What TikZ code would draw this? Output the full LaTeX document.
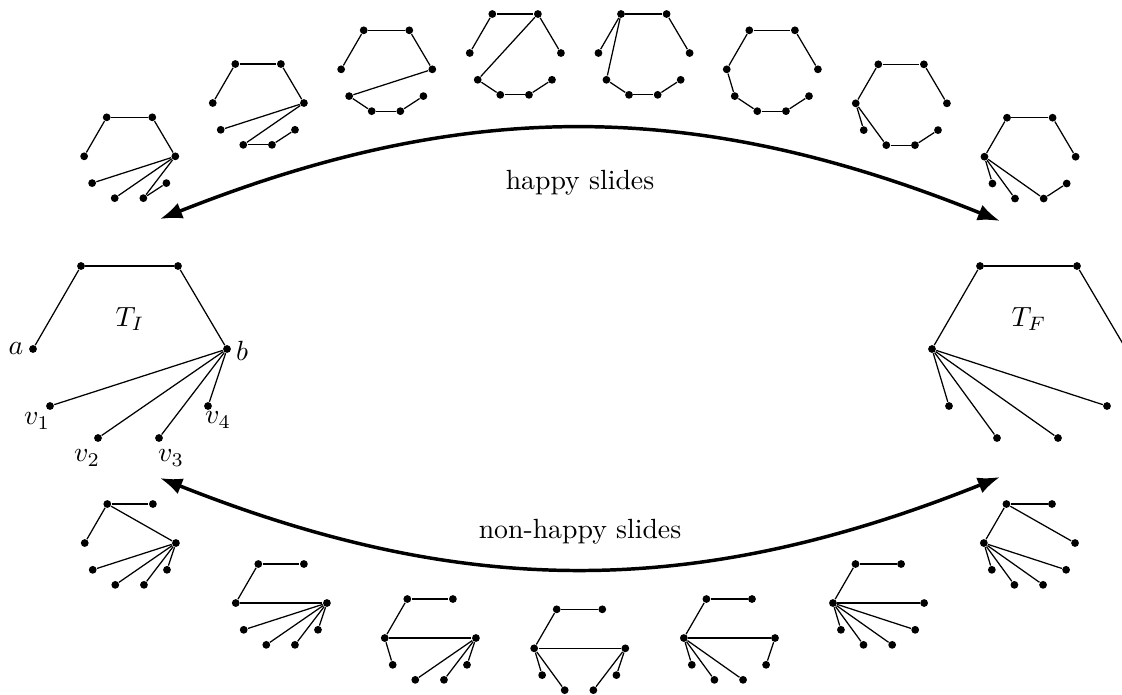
\documentclass[tikz,border=0pt]{standalone}
\usetikzlibrary{arrows.meta}
\tikzset{
  dot/.style={circle,fill,inner sep=0pt,minimum size=2.8pt},
  edge/.style={line width=0.45pt},
  bigarrow/.style={line width=1.25pt,{Latex[length=8pt,width=6pt]}-{Latex[length=8pt,width=6pt]}},
  lbl/.style={inner sep=1pt},
}
\newcommand\treedraw[5]{% prefix, x, y, scale, edges
 \begin{scope}[shift={(#2,#3)},scale=#4]
  \node[dot] (#1TL) at (0,0) {};
  \node[dot] (#1TR) at (97,0) {};
  \node[dot] (#1a) at (-48,83) {};
  \node[dot] (#1b) at (146,83) {};
  \node[dot] (#1v1) at (-31,140) {};
  \node[dot] (#1v2) at (17,172) {};
  \node[dot] (#1v3) at (78,172) {};
  \node[dot] (#1v4) at (127,140) {};
  \foreach \p/\q in {#5} {\draw[edge] (#1\p) -- (#1\q);}
 \end{scope}}
\begin{document}
\begin{tikzpicture}[x=0.36pt,y=-0.36pt]
\useasboundingbox (0,0) rectangle (1122,694);
\clip (0,0) rectangle (1122,694);
% big trees
\treedraw{TI}{81}{266}{1}{TL/TR,TL/a,TR/b,b/v1,b/v2,b/v3,b/v4}
\treedraw{TF}{980}{266}{1}{TL/TR,TL/a,TR/b,a/v1,a/v2,a/v3,a/v4}
% top row
\treedraw{ta}{106.7}{117.3}{0.47}{TL/TR,TL/a,TR/b,b/v1,b/v2,b/v3,v3/v4}
\treedraw{tb}{235.3}{64}{0.47}{TL/TR,TL/a,TR/b,b/v1,b/v2,v2/v3,v3/v4}
\treedraw{tc}{363.7}{30.3}{0.47}{TL/TR,TL/a,TR/b,b/v1,v1/v2,v2/v3,v3/v4}
\treedraw{td}{492.3}{14}{0.47}{TL/TR,TL/a,TR/b,TR/v1,v1/v2,v2/v3,v3/v4}
\treedraw{te}{621}{14}{0.47}{TL/TR,TL/a,TR/b,TL/v1,v1/v2,v2/v3,v3/v4}
\treedraw{tf}{749.3}{30.3}{0.47}{TL/TR,TL/a,TR/b,a/v1,v1/v2,v2/v3,v3/v4}
\treedraw{tg}{878.3}{64.3}{0.47}{TL/TR,TL/a,TR/b,a/v1,a/v2,v2/v3,v3/v4}
\treedraw{th}{1007}{117.7}{0.47}{TL/TR,TL/a,TR/b,a/v1,a/v2,a/v3,v3/v4}
% bottom row
\treedraw{bi}{107.3}{504}{0.47}{TL/TR,TL/a,TL/b,b/v1,b/v2,b/v3,b/v4}
\treedraw{bj}{258.3}{564}{0.47}{TL/TR,TL/a,a/b,b/v1,b/v2,b/v3,b/v4}
\treedraw{bk}{407.3}{599}{0.47}{TL/TR,TL/a,a/b,a/v1,b/v2,b/v3,b/v4}
\treedraw{bl}{556.7}{609.3}{0.47}{TL/TR,TL/a,a/b,a/v1,a/v2,b/v3,b/v4}
\treedraw{bm}{706.4}{599}{0.47}{TL/TR,TL/a,a/b,a/v1,a/v2,a/v3,b/v4}
\treedraw{bn}{855.5}{564}{0.47}{TL/TR,TL/a,a/b,a/v1,a/v2,a/v3,a/v4}
\treedraw{bo}{1006.4}{504}{0.47}{TL/TR,TL/a,TL/b,a/v1,a/v2,a/v3,a/v4}
% labels
\node[lbl] (la) at (16,349) {$a$};
\node[lbl] (lb) at (242,351) {$b$};
\node[lbl] (lv1) at (37,421) {$v_1$};
\node[lbl] (lv2) at (87,458) {$v_2$};
\node[lbl] (lv3) at (171,458) {$v_3$};
\node[lbl] (lv4) at (218,420) {$v_4$};
\node[lbl] (lTI) at (130,319) {$T_I$};
\node[lbl] (lTF) at (1029,319) {$T_F$};
% arrows
\coordinate (hL) at (160,219);
\coordinate (hR) at (1000,221);
\coordinate (nL) at (160,478);
\coordinate (nR) at (1000,477);
\draw[bigarrow] (hL) .. controls (465,98) and (695,98) .. (hR);
\draw[bigarrow] (nL) .. controls (465,599) and (695,599) .. (nR);
\node[lbl] (hs) at (580,183) {happy slides};
\node[lbl] (ns) at (580,532) {non-happy slides};
\end{tikzpicture}
\end{document}
